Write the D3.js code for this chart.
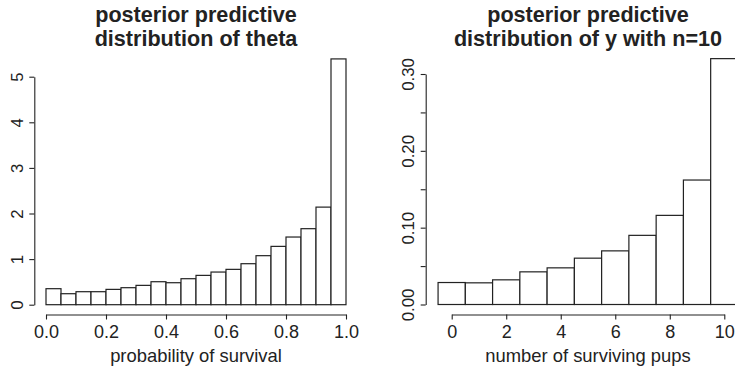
<!DOCTYPE html>
<html>
<head>
<meta charset="utf-8">
<script src="https://cdn.jsdelivr.net/npm/d3@7"></script>
<style>
  html, body { margin: 0; padding: 0; background: #fff; }
  svg { display: block; font-family: "Liberation Sans", Arial, Helvetica, sans-serif; }
  .domain, .tick line { stroke: #222; stroke-width: 1.1; }
  .tick text { fill: #222; }
</style>
</head>
<body>
<svg id="chart" width="735" height="368"></svg>
<script>
// Posterior predictive histogram of theta (density per 0.05-wide bin)
const thetaBinStarts = [0.00, 0.05, 0.10, 0.15, 0.20, 0.25, 0.30, 0.35, 0.40, 0.45,
                        0.50, 0.55, 0.60, 0.65, 0.70, 0.75, 0.80, 0.85, 0.90, 0.95];
const thetaDensity   = [0.351, 0.241, 0.285, 0.285, 0.336, 0.373, 0.424, 0.504, 0.482, 0.570,
                        0.643, 0.716, 0.775, 0.899, 1.075, 1.279, 1.484, 1.667, 2.140, 5.390];
const thetaBinWidth = 0.05;
const thetaXTicks = [0, 0.2, 0.4, 0.6, 0.8, 1.0];
const thetaYTicks = [0, 1, 2, 3, 4, 5];

// Posterior predictive distribution of surviving pups out of n = 10
const pupCounts = [0, 1, 2, 3, 4, 5, 6, 7, 8, 9, 10];
const pupProb   = [0.0286, 0.0282, 0.0321, 0.0425, 0.0477, 0.0603, 0.0698, 0.090, 0.116, 0.162, 0.320];
const pupXTicks = [0, 2, 4, 6, 8, 10];
const pupYTicks = [0, 0.05, 0.10, 0.15, 0.20, 0.25, 0.30];
const pupYLabels = [0, 0.10, 0.20, 0.30];

const svg = d3.select("#chart");
const ink = "#222";
const axisY = 314.5;

function panel(cfg) {
  const g = svg.append("g");
  const x = d3.scaleLinear().domain(cfg.xDomain).range(cfg.xRange);
  const y = d3.scaleLinear().domain(cfg.yDomain).range(cfg.yRange);

  // bars
  g.append("g").selectAll("rect")
    .data(cfg.bars)
    .join("rect")
    .attr("x", d => x(d.x0))
    .attr("width", d => x(d.x1) - x(d.x0))
    .attr("y", d => y(d.v))
    .attr("height", d => y(0) - y(d.v))
    .attr("fill", "#fff")
    .attr("stroke", ink)
    .attr("stroke-width", 1.2);

  // x axis
  const xa = g.append("g")
    .attr("transform", `translate(0,${axisY})`)
    .call(d3.axisBottom(x).tickValues(cfg.xTicks).tickSize(5).tickSizeOuter(0).tickFormat(cfg.xFormat));
  xa.selectAll(".tick text")
    .attr("y", 23.2).attr("dy", null)
    .style("font-size", "18px");

  // y axis
  const ya = g.append("g")
    .attr("transform", `translate(${cfg.yAxisX},0)`)
    .call(d3.axisLeft(y).tickValues(cfg.yTicks).tickSize(5).tickSizeOuter(0)
      .tickFormat(d => cfg.yLabelled(d) ? cfg.yFormat(d) : ""));
  ya.selectAll(".tick text")
    .attr("transform", "rotate(-90)")
    .attr("x", 0).attr("y", -11.3).attr("dy", null)
    .attr("text-anchor", "middle")
    .style("font-size", "16.8px");

  // title (two lines, bold)
  const t = g.append("text")
    .attr("text-anchor", "middle")
    .attr("fill", ink)
    .style("font-weight", "bold")
    .style("font-size", "21.6px");
  cfg.title.forEach((line, i) => {
    t.append("tspan").attr("x", cfg.titleX).attr("y", 22 + i * 23.5).text(line);
  });

  // x axis title
  g.append("text")
    .attr("x", cfg.titleX).attr("y", 362)
    .attr("text-anchor", "middle")
    .attr("fill", ink)
    .style("font-size", "18.4px")
    .text(cfg.xLabel);
}

panel({
  xDomain: [0, 1], xRange: [46, 346],
  yDomain: [0, 5], yRange: [304.7, 76.7],
  yAxisX: 34.3,
  bars: thetaBinStarts.map((s, i) => ({ x0: s, x1: s + thetaBinWidth, v: thetaDensity[i] })),
  xTicks: thetaXTicks, xFormat: d3.format(".1f"),
  yTicks: thetaYTicks, yLabelled: () => true, yFormat: d3.format("d"),
  title: ["posterior predictive", "distribution of theta"],
  titleX: 196,
  xLabel: "probability of survival"
});

panel({
  xDomain: [0, 10], xRange: [451.7, 724.3],
  yDomain: [0, 0.30], yRange: [304.5, 74],
  yAxisX: 425.7,
  bars: pupCounts.map((c, i) => ({ x0: c - 0.5, x1: c + 0.5, v: pupProb[i] })),
  xTicks: pupXTicks, xFormat: d3.format("d"),
  yTicks: pupYTicks,
  yLabelled: d => pupYLabels.some(v => Math.abs(v - d) < 1e-9),
  yFormat: d3.format(".2f"),
  title: ["posterior predictive", "distribution of y with n=10"],
  titleX: 588,
  xLabel: "number of surviving pups"
});
</script>
</body>
</html>
